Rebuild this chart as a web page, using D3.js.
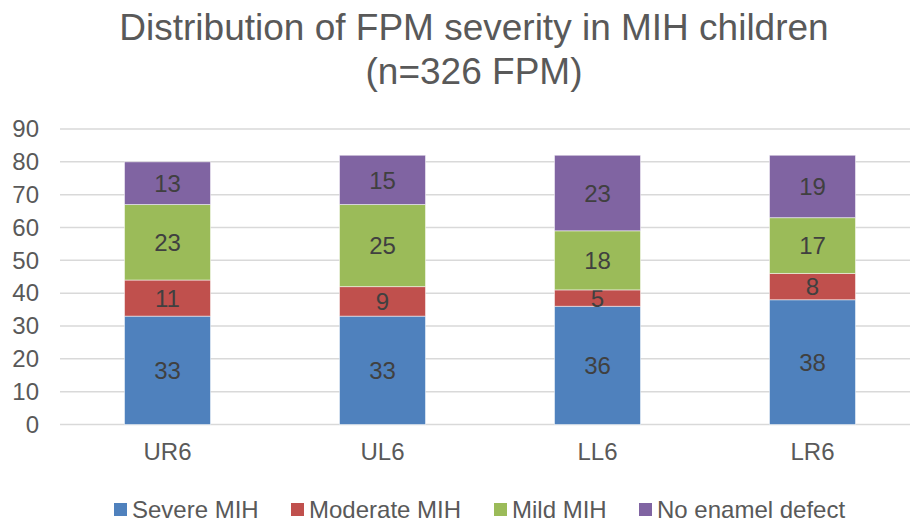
<!DOCTYPE html>
<html>
<head>
<meta charset="utf-8">
<script src="https://cdn.jsdelivr.net/npm/d3@7"></script>
<style>
  body { margin: 0; background: #fff; }
  svg { font-family: "Liberation Sans", Arial, sans-serif; display: block; }
</style>
</head>
<body>
<svg width="910" height="524"></svg>
<script>
// data
var categories = ["UR6", "UL6", "LL6", "LR6"];
var seriesNames = ["Severe MIH", "Moderate MIH", "Mild MIH", "No enamel defect"];
var severe = [33, 33, 36, 38];
var moderate = [11, 9, 5, 8];
var mild = [23, 25, 18, 17];
var noDefect = [13, 15, 23, 19];
var yTicks = [0, 10, 20, 30, 40, 50, 60, 70, 80, 90];
var colors = ["#4f81bd", "#c0504d", "#9bbb59", "#8064a2"];

var svg = d3.select("svg"),
  width = +svg.attr("width");

var rows = categories.map(function (c, i) {
  return { cat: c, s0: severe[i], s1: moderate[i], s2: mild[i], s3: noDefect[i] };
});
var keys = ["s0", "s1", "s2", "s3"];
var stacked = d3.stack().keys(keys)(rows);

var xScale = d3.scaleBand().domain(categories).range([60, 920]).paddingInner(0.6).paddingOuter(0.3),
  yScale = d3.scaleLinear().domain([0, 90]).range([424.5, 129]);

// title
svg.append("text")
  .attr("x", 474).attr("y", 40)
  .attr("text-anchor", "middle")
  .attr("fill", "#595959")
  .style("font-size", "37px")
  .text("Distribution of FPM severity in MIH children");
svg.append("text")
  .attr("x", 474).attr("y", 84)
  .attr("text-anchor", "middle")
  .attr("fill", "#595959")
  .style("font-size", "37px")
  .text("(n=326 FPM)");

// gridlines
svg.append("g")
  .selectAll("line")
  .data(yTicks)
  .enter()
  .append("line")
  .attr("x1", 60).attr("x2", width)
  .attr("y1", function (d) { return yScale(d); })
  .attr("y2", function (d) { return yScale(d); })
  .attr("stroke", "#d9d9d9")
  .attr("stroke-width", 1.5);

// y axis labels
var yAxis = svg.append("g")
  .attr("transform", "translate(60,0)")
  .call(d3.axisLeft(yScale).tickValues(yTicks).tickSize(0).tickPadding(21));
yAxis.select(".domain").remove();
yAxis.selectAll("text")
  .attr("fill", "#595959")
  .style("font-size", "24px")
  .style("font-family", "Liberation Sans, Arial, sans-serif");

// x axis labels
var xAxis = svg.append("g")
  .attr("transform", "translate(0," + yScale(0) + ")")
  .call(d3.axisBottom(xScale).tickSize(0).tickPadding(18));
xAxis.select(".domain").remove();
xAxis.selectAll("text")
  .attr("fill", "#595959")
  .style("font-size", "24px")
  .style("font-family", "Liberation Sans, Arial, sans-serif");

// bars
var layer = svg.selectAll(".layer")
  .data(stacked)
  .enter()
  .append("g")
  .attr("class", "layer")
  .attr("fill", function (d, i) { return colors[i]; });

layer.selectAll("rect")
  .data(function (d) { return d; })
  .enter()
  .append("rect")
  .attr("x", function (d) { return xScale(d.data.cat); })
  .attr("y", function (d) { return yScale(d[1]); })
  .attr("width", xScale.bandwidth())
  .attr("height", function (d) { return yScale(d[0]) - yScale(d[1]); })
  .attr("stroke", "#ffffff")
  .attr("stroke-opacity", 0.5)
  .attr("stroke-width", 1);

layer.selectAll("text")
  .data(function (d) { return d; })
  .enter()
  .append("text")
  .attr("x", function (d) { return xScale(d.data.cat) + xScale.bandwidth() / 2; })
  .attr("y", function (d) { return (yScale(d[0]) + yScale(d[1])) / 2; })
  .attr("dy", "0.36em")
  .attr("text-anchor", "middle")
  .attr("fill", "#404040")
  .style("font-size", "24px")
  .text(function (d) { return d[1] - d[0]; });

// legend
var legendX = [114, 291, 494, 639];
var legend = svg.append("g")
  .selectAll("g")
  .data(seriesNames)
  .enter()
  .append("g")
  .attr("transform", function (d, i) { return "translate(" + legendX[i] + ",503)"; });
legend.append("rect")
  .attr("width", 13).attr("height", 13)
  .attr("fill", function (d, i) { return colors[i]; });
legend.append("text")
  .attr("x", 18).attr("y", 15)
  .attr("fill", "#595959")
  .style("font-size", "24px")
  .text(function (d) { return d; });
</script>
</body>
</html>
